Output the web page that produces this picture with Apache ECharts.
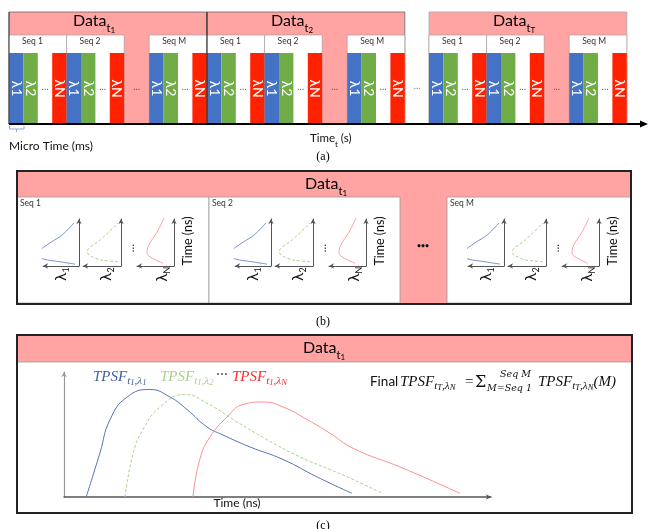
<!DOCTYPE html>
<html><head><meta charset="utf-8">
<script src="https://cdn.jsdelivr.net/npm/echarts@6/dist/echarts.min.js"></script>
<style>html,body{margin:0;padding:0;background:#fff}#c{width:648px;height:529px}</style>
</head><body><div id="c"></div>
<script>
// Acquisition structure
const timePoints = ['1', '2', 'T'];
const sequences = ['Seq 1', 'Seq 2', 'Seq M'];
const channels = ['λ1', 'λ2', '…', 'λN'];
const channelSubs = ['1', '2', 'N'];

// Per-sequence decay profiles: [intensity, time]
const seqProfileL1 = [[0.11, 0.04], [0.53, 0.09], [1.0, 0.15], [1.17, 0.23], [1.14, 0.30], [0.81, 0.49], [0.47, 0.66], [0.14, 0.92]];
const seqProfileL2 = [[0.08, 0.09], [0.35, 0.11], [0.63, 0.15], [0.89, 0.30], [0.55, 0.55], [0.08, 0.91]];
const seqProfileLN = [[0.30, 0.06], [0.59, 0.17], [0.73, 0.28], [0.68, 0.45], [0.46, 0.72], [0.27, 1.02]];

// Accumulated TPSF curves: [time (ns), counts]
const tpsfL1 = [[0.52, 0], [0.84, 0.35], [1.08, 0.62], [1.48, 0.80], [2.01, 0.86], [2.48, 0.80], [2.88, 0.70], [3.35, 0.56], [3.70, 0.50], [4.36, 0.40], [5.13, 0.30], [5.93, 0.16], [6.74, 0.03]];
const tpsfL2 = [[1.43, 0], [1.62, 0.35], [1.85, 0.54], [2.25, 0.72], [2.83, 0.82], [3.35, 0.75], [3.96, 0.62], [4.75, 0.46], [5.53, 0.32], [6.23, 0.22], [6.77, 0.14], [7.45, 0.03]];
const tpsfLN = [[3.02, 0], [3.18, 0.30], [3.42, 0.48], [3.82, 0.64], [4.19, 0.74], [4.66, 0.76], [5.13, 0.72], [5.69, 0.62], [6.23, 0.51], [6.77, 0.39], [7.94, 0.23], [9.27, 0.03]];

const PINK = '#ffa3a3', BLUE = '#4472c4', GREEN = '#70ad47', RED = '#ff2200';
const SANS = 'Lato', SERIF = 'Liberation Serif', MATH = 'DejaVu Serif';

const els = [];
function R(x, y, w, h, fill, stroke, lw, z) {
  els.push({ type: 'rect', z: z || 0, silent: true, shape: { x, y, width: w, height: h },
    style: { fill: fill || 'none', stroke: stroke || null, lineWidth: lw || 0 } });
}
function PL(pts, stroke, lw, z) {
  els.push({ type: 'polyline', z: z || 1, silent: true, shape: { points: pts },
    style: { stroke, lineWidth: lw, fill: null } });
}
function TX(x, y, text, style, rot, z) {
  els.push({ type: 'text', x, y, rotation: rot || 0, z: z || 6, silent: true,
    style: Object.assign({ text, align: 'center', verticalAlign: 'middle', fill: '#000', fontFamily: SANS, fontSize: 12 }, style || {}) });
}
function dataRich(sub) {
  return {
    text: '{b|Data}{s|t}{ss|' + sub + '}', align: 'left', verticalAlign: 'middle',
    rich: {
      b: { fontFamily: SANS, fontSize: 16, lineHeight: 26, fill: '#000' },
      s: { fontFamily: SANS, fontSize: 11, lineHeight: 10, verticalAlign: 'bottom', fill: '#000' },
      ss: { fontFamily: SANS, fontSize: 8, lineHeight: 5, verticalAlign: 'bottom', fill: '#000' }
    }
  };
}
// italic math with two subscript levels
function mathRich(parts, color, size) {
  return {
    text: parts, align: 'left', verticalAlign: 'middle',
    rich: {
      m: { fontFamily: SERIF, fontStyle: 'italic', fontSize: size, lineHeight: 20, fill: color },
      s: { fontFamily: SERIF, fontStyle: 'italic', fontSize: size * 0.74, lineHeight: 10, verticalAlign: 'bottom', fill: color },
      ss: { fontFamily: SERIF, fontStyle: 'italic', fontSize: size * 0.58, lineHeight: 6, verticalAlign: 'bottom', fill: color }
    }
  };
}

/* ---------- (a) acquisition timeline ---------- */
const colW = 14.4, seqW = colW * channels.length, gapW = 25;
const blockW = 3 * seqW + gapW;
const blockLeft = [9, 207, 429];
const seqOffset = [0, seqW, 2 * seqW + gapW];
const colFill = [BLUE, GREEN, '#fff', RED];

timePoints.forEach((tp, b) => {
  const L = blockLeft[b];
  R(L, 12, blockW, 112, PINK, b < 2 ? '#666' : '#aaa', 0.8, 0);
  TX(L + 64, 21, '', dataRich(tp));
  sequences.forEach((sq, s) => {
    const sx = L + seqOffset[s];
    R(sx, 35, seqW, 89, '#fff', '#999', 0.6, 1);
    TX(sx + 13, 41.5, sq, { align: 'left', fontSize: 8.5, fill: '#333' });
    channels.forEach((ch, c) => {
      const cx = sx + c * colW;
      if (c !== 2) {
        R(cx, 53, colW, 71, colFill[c], null, 0, 2);
        TX(cx + colW / 2, 88.5, ch, { fill: '#fff', fontSize: 14 }, -Math.PI / 2);
      } else {
        TX(cx + colW / 2, 87, '…', { fill: '#555', fontSize: 9 });
      }
    });
  });
  TX(L + 2 * seqW + gapW / 2, 87, '…', { fill: '#555', fontSize: 9 });
});
PL([[207, 12], [207, 124]], '#222', 1, 3);
PL([[9, 12], [9, 124]], '#444', 1, 3);
TX(417, 86, '…', { fill: '#777', fontSize: 9 });
PL([[9, 124], [642, 124]], '#000', 2, 4);
els.push({ type: 'polygon', z: 4, silent: true, shape: { points: [[648, 124], [640, 120.5], [640, 127.5]] }, style: { fill: '#000' } });
PL([[9.5, 126], [9.5, 129], [24, 129], [24, 126]], '#8faadc', 1, 3);
PL([[16.5, 129], [16.5, 132]], '#8faadc', 1, 3);
TX(9, 146, 'Micro Time (ms)', { align: 'left', fontSize: 12, fill: '#111' });
TX(310, 138, '', {
  text: '{b|Time}{s|t}{b| (s)}', align: 'left',
  rich: { b: { fontFamily: SANS, fontSize: 11.5, lineHeight: 20, fill: '#111' },
          s: { fontFamily: SANS, fontSize: 8, lineHeight: 10, verticalAlign: 'bottom', fill: '#111' } }
});
TX(323, 157, '(a)', { fontFamily: SERIF, fontSize: 12 });

/* ---------- (b) per-sequence profiles ---------- */
R(17, 171, 614, 133, PINK, null, 0, 0);
TX(305, 184, '', dataRich('1'));
const bLeft = [17, 209, 447], bRight = [209, 400, 631];
sequences.forEach((sq, s) => {
  R(bLeft[s], 197, bRight[s] - bLeft[s], 106, '#fff', '#999', 0.8, 1);
  TX(bLeft[s] + 3, 203, sq, { align: 'left', fontSize: 8.5, fill: '#333' });
});
R(17, 171, 614, 133, 'none', '#222', 2, 7);
TX(423, 246, '•••', { fontSize: 7, fontWeight: 'bold', fill: '#111' });
TX(323, 322, '(b)', { fontFamily: SERIF, fontSize: 12 });

const grids = [], xAxes = [], yAxes = [], series = [];
const profiles = [seqProfileL1, seqProfileL2, seqProfileLN];
const profStyle = [
  { color: '#7b93c8', type: 'solid' },
  { color: '#a8d08d', type: [3, 2] },
  { color: '#ffa0a0', type: 'solid' }
];
const plotAnchor = [17, 209, 442];
const miniLeft = [26, 66, 120], miniW = [36, 38, 37], labelX = [44, 89, 145];

function axisLine(color, width, size, sym) {
  return { onZero: false, lineStyle: { color, width }, symbol: sym || ['none', 'arrow'], symbolSize: size };
}
const hide = { axisTick: { show: false }, axisLabel: { show: false }, splitLine: { show: false } };

// intensity grows to the left of each time axis, so it is plotted as a negative x
sequences.forEach((sq, s) => {
  const a = plotAnchor[s];
  profiles.forEach((p, k) => {
    const gi = grids.length;
    grids.push({ left: a + miniLeft[k], top: 219, width: miniW[k], height: 47 });
    xAxes.push(Object.assign({ gridIndex: gi, type: 'value', min: -1, max: 0, z: 3,
      axisLine: axisLine('#555', 1, [4, 5], ['arrow', 'none']) }, hide));
    yAxes.push(Object.assign({ gridIndex: gi, type: 'value', min: 0, max: 1, position: 'right', z: 3,
      axisLine: axisLine('#555', 1, [4, 5]) }, hide));
    series.push({ type: 'line', xAxisIndex: gi, yAxisIndex: gi, data: p.map(d => [-d[0], d[1]]),
      smooth: 0.4, symbol: 'none', clip: false, silent: true, z: 4,
      lineStyle: { color: profStyle[k].color, width: 1, type: profStyle[k].type } });
    TX(a + labelX[k], 274, '', {
      text: '{l|λ}{s|' + channelSubs[k] + '}',
      rich: { l: { fontFamily: SANS, fontSize: 15, lineHeight: 20, fill: '#111' },
              s: { fontFamily: SANS, fontSize: 9, lineHeight: 10, verticalAlign: 'bottom', fill: '#111' } }
    }, Math.PI / 2);
  });
  TX(a + 113, 248, '…', { fontSize: 11, fill: '#222' }, Math.PI / 2);
  TX(a + 171, 241, 'Time (ns)', { fontSize: 12.5, fill: '#111' }, Math.PI / 2);
});

/* ---------- (c) accumulated TPSFs ---------- */
R(17, 335, 615, 178, '#fff', null, 0, 0);
R(17, 335, 615, 27, PINK, '#999', 0.8, 0);
R(17, 335, 615, 178, 'none', '#222', 2, 7);
TX(303, 348, '', dataRich('1'));

const cg = grids.length;
grids.push({ left: 64, top: 372, width: 427, height: 125 });
xAxes.push(Object.assign({ gridIndex: cg, type: 'value', min: 0, max: 10, z: 3,
  axisLine: axisLine('#555', 1.5, [4, 5]) }, hide));
yAxes.push(Object.assign({ gridIndex: cg, type: 'value', min: 0, max: 1, z: 3,
  axisLine: axisLine('#999', 1.2, [4, 5]) }, hide));
[[tpsfL1, '#5474b8', 'solid'], [tpsfL2, '#a9d18e', [3, 2]], [tpsfLN, '#ff8e8e', 'solid']].forEach(([d, col, ty]) => {
  series.push({ type: 'line', xAxisIndex: cg, yAxisIndex: cg, data: d, smooth: true, symbol: 'none',
    silent: true, z: 4, lineStyle: { color: col, width: 1, type: ty } });
});

TX(93, 377, '', mathRich('{m|TPSF}{s|t}{ss|1}{s|,λ}{ss|1}', '#3f5fa8', 15));
TX(160, 377, '', mathRich('{m|TPSF}{s|t}{ss|1}{s|,λ}{ss|2}', '#a9d18e', 15));
TX(222, 374, '⋯', { fontSize: 12, fill: '#333' });
TX(232, 377, '', mathRich('{m|TPSF}{s|t}{ss|1}{s|,λ}{ss|N}', '#ff2a2a', 15));

TX(370, 382, 'Final', { align: 'left', fontSize: 13.5, fill: '#111' });
TX(400, 382, '', mathRich('{m|TPSF}{s|t}{ss|T}{s|,λ}{ss|N}', '#111', 15));
TX(465, 382, '=', { align: 'left', fontFamily: SERIF, fontSize: 15, fill: '#111' });
TX(475, 383, 'Σ', { align: 'left', fontFamily: MATH, fontSize: 16, fill: '#111' });
TX(500, 375, 'Seq M', { align: 'left', fontFamily: MATH, fontStyle: 'italic', fontSize: 9.5, fill: '#111' });
TX(487, 389, 'M=Seq 1', { align: 'left', fontFamily: MATH, fontStyle: 'italic', fontSize: 9.5, fill: '#111' });
TX(538, 382, '', mathRich('{m|TPSF}{s|t}{ss|T}{s|,λ}{ss|N}{m|(M)}', '#111', 15));

TX(237, 503, 'Time (ns)', { fontSize: 12, fill: '#111' });
TX(323, 526, '(c)', { fontFamily: SERIF, fontSize: 12 });

const chart = echarts.init(document.getElementById('c'), null, { renderer: 'canvas' });
chart.setOption({
  animation: false,
  backgroundColor: '#fff',
  grid: grids,
  xAxis: xAxes,
  yAxis: yAxes,
  series: series,
  graphic: { elements: els }
});
</script>
</body></html>
